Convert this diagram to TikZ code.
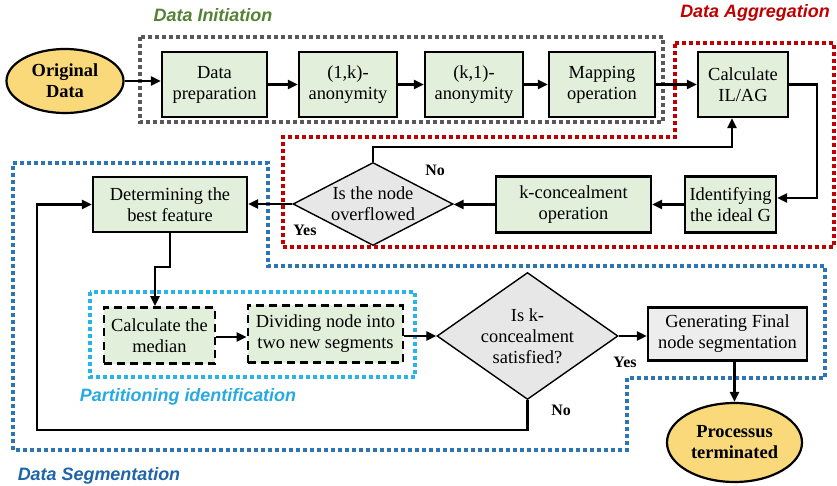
\documentclass[tikz,border=0pt]{standalone}
\usepackage{fontspec}
\setmainfont{Liberation Serif}
\setsansfont{Liberation Sans}
\usetikzlibrary{shapes.geometric,arrows.meta}
\definecolor{boxgreen}{HTML}{E2EFDA}
\definecolor{ovalfill}{HTML}{FAD97A}
\definecolor{diafill}{HTML}{E7E7E7}
\definecolor{gengray}{HTML}{EDEDED}
\definecolor{initgray}{HTML}{595959}
\definecolor{aggred}{HTML}{C00000}
\definecolor{segblue}{HTML}{2E75B6}
\definecolor{partblue}{HTML}{29B4E8}
\definecolor{initgreen}{HTML}{548235}
\definecolor{seglabel}{HTML}{1F64A8}
\definecolor{partlabel}{HTML}{29A9E1}
\tikzset{
  txt/.style={font=\fontsize{18.5}{21}\selectfont, align=center},
  proc/.style={txt, draw, line width=2.4bp, fill=boxgreen, inner sep=0pt},
  dproc/.style={proc, line width=2.6bp, dash pattern=on 8bp off 5bp},
  oval/.style={ellipse, draw, line width=2.2bp, fill=ovalfill, inner sep=0pt, font=\fontsize{18.5}{21}\selectfont\bfseries, align=center},
  decision/.style={diamond, draw, line width=1.4bp, fill=diafill, inner sep=0pt},
  conn/.style={line width=2.3bp, -{Triangle[length=10bp,width=9bp]}},
  region/.style={line width=3.6bp, dash pattern=on 3.6bp off 3.4bp},
  grouplabel/.style={font=\fontsize{18}{20}\selectfont\sffamily\bfseries\itshape},
  yn/.style={font=\fontsize{16}{18}\selectfont\bfseries}
}
\begin{document}
\begin{tikzpicture}[x=1bp,y=-1bp]
\useasboundingbox (0,0) rectangle (837,486);
% regions
\draw[region, draw=initgray] (140,37) rectangle (663,122);
\draw[region, draw=aggred] (675,43) -- (834,43) -- (834,247) -- (283,247) -- (283,137) -- (675,137) -- cycle;
\draw[region, draw=segblue] (13,163) -- (268,163) -- (268,266) -- (825,266) -- (825,378) -- (627,378) -- (627,450) -- (13,450) -- cycle;
\draw[region, draw=partblue] (90,292) rectangle (415,377);
% nodes
\node[oval, minimum width=117bp, minimum height=64bp] (orig) at (65,81) {Original\\Data};
\node[proc, minimum width=105bp, minimum height=65bp] (prep) at (214.5,84.5) {Data\\preparation};
\node[proc, minimum width=98bp, minimum height=65bp] (onek) at (348,84.5) {(1,k)-\\anonymity};
\node[proc, minimum width=98bp, minimum height=65bp] (kone) at (474,84.5) {(k,1)-\\anonymity};
\node[proc, minimum width=106bp, minimum height=65bp] (map) at (602,84.5) {Mapping\\operation};
\node[proc, minimum width=90bp, minimum height=65bp] (calc) at (743,84.5) {Calculate\\IL/AG};
\node[proc, minimum width=91bp, minimum height=56bp] (ideal) at (730.5,204.5) {Identifying\\the ideal G};
\node[proc, minimum width=155bp, minimum height=56bp] (kcon) at (573.5,204.5) {k-concealment\\operation};
\node[decision, minimum width=160bp, minimum height=83bp] (over) at (373,204) {};
\node[txt] (overtxt) at (over) {Is the node\\overflowed};
\node[proc, minimum width=154bp, minimum height=55bp] (best) at (170,204.5) {Determining the\\best feature};
\node[dproc, minimum width=111bp, minimum height=56bp] (med) at (159.5,335.5) {Calculate the\\median};
\node[dproc, minimum width=155bp, minimum height=57bp] (div) at (325.5,334) {Dividing node into\\two new segments};
\node[decision, minimum width=181bp, minimum height=127bp] (sat) at (527.5,336) {};
\node[txt] (sattxt) at (sat) {Is k-\\concealment\\satisfied?};
\node[proc, fill=gengray, minimum width=159bp, minimum height=53bp] (gen) at (727.5,334) {Generating Final\\node segmentation};
\node[oval, minimum width=135bp, minimum height=79bp] (term) at (734.5,442.5) {Processus\\terminated};
% connectors
\draw[conn] (orig) -- (orig -| prep.west);
\draw[conn] (prep) -- (onek);
\draw[conn] (onek) -- (kone);
\draw[conn] (kone) -- (map);
\draw[conn] (map) -- (calc);
\coordinate (c1) at (817,198);
\draw[conn] (calc.east) -| (c1) -- (c1 -| ideal.east);
\draw[conn] (ideal) -- (kcon);
\draw[conn] (kcon.west) -- (kcon.west -| over.east);
\draw[conn] (over.west) -- (over.west -| best.east);
\coordinate (c2) at (732,147);
\draw[conn] (over.north) |- (c2) -- (c2 |- calc.south);
\coordinate (c3) at (155,267);
\draw[conn] (best.south) |- (c3) -- (c3 |- med.north);
\draw[conn] (med.east |- 0,337) -- (div.west |- 0,337);
\draw[conn] (div.east |- sat.west) -- (sat.west);
\draw[conn] (sat.east) -- (sat.east -| gen.west);
\draw[conn] (gen.south -| term.north) -- (term.north);
\coordinate (c4) at (37,430);
\draw[conn] (sat.south) |- (c4) |- (best.west);
% labels
\node[yn] (no1) at (435,170) {No};
\node[yn] (yes1) at (305,230) {Yes};
\node[yn] (yes2) at (625,362) {Yes};
\node[yn] (no2) at (561,410) {No};
\node[grouplabel, text=initgreen] (l1) at (213,15) {Data Initiation};
\node[grouplabel, text=aggred] (l2) at (755,13) {Data Aggregation};
\node[grouplabel, text=seglabel] (l3) at (99,476) {Data Segmentation};
\node[grouplabel, text=partlabel] (l4) at (188,397) {Partitioning identification};
\end{tikzpicture}
\end{document}
